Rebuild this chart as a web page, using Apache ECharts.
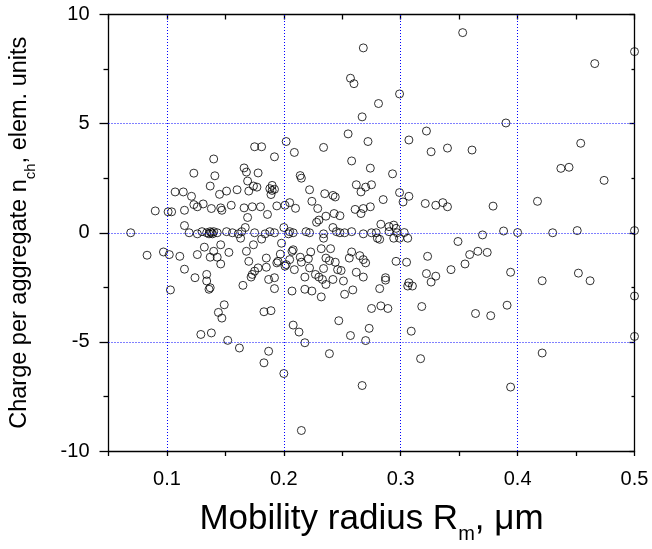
<!DOCTYPE html>
<html><head><meta charset="utf-8">
<script src="https://cdn.jsdelivr.net/npm/echarts@6/dist/echarts.min.js"></script>
<style>html,body{margin:0;padding:0;background:#fff}#c{width:652px;height:549px}</style>
</head><body><div id="c"></div>
<script>
// Mobility radius R_m (µm)
const radius = [
0.069,0.090,0.101,0.104,0.107,0.114,0.115,0.115,0.083,0.097,0.102,0.111,0.115,0.103,
0.175,0.181,0.202,0.209,0.140,0.192,0.123,0.141,0.166,0.168,0.178,0.214,0.215,0.137,0.169,0.174,0.177,0.170,0.190,0.190,0.188,0.192,0.189,0.121,0.145,0.151,0.160,0.123,0.131,0.126,0.138,0.146,0.147,0.155,0.166,0.173,0.180,0.169,0.186,0.194,0.201,0.205,0.210,0.167,0.200,0.205,
0.119,0.126,0.130,0.134,0.136,0.137,0.138,0.139,0.140,0.143,0.151,0.156,0.161,0.164,0.175,0.184,0.188,0.192,0.204,0.208,0.219,0.222,0.234,0.245,0.248,0.252,0.258,0.268,0.275,0.279,0.290,0.297,0.303,0.370,0.388,0.400,
0.163,0.181,0.234,0.280,0.282,0.294,0.299,0.306,0.349,
0.126,0.132,0.140,0.146,0.153,0.137,0.143,0.146,0.124,0.134,0.134,0.136,0.137,0.165,0.172,0.173,0.175,0.178,0.185,0.185,0.187,0.192,0.192,0.168,0.170,0.174,0.194,0.195,0.198,0.197,0.201,0.202,0.205,0.207,0.208,0.207,0.149,0.144,0.147,0.183,0.189,0.129,0.138,0.152,0.162,0.187,0.183,0.208,0.213,
0.281,0.267,0.255,0.272,0.307,0.234,0.258,0.274,0.293,0.222,0.235,0.242,0.244,0.262,0.266,0.270,0.275,0.285,0.299,0.307,0.302,0.224,0.229,0.236,0.243,0.248,0.261,0.266,0.268,0.274,0.230,0.228,0.242,0.283,0.290,0.294,0.296,
0.232,0.240,0.223,0.214,0.221,0.236,0.239,0.244,0.215,0.209,0.222,0.234,0.246,0.249,0.258,0.256,0.265,0.268,0.270,0.262,0.268,0.296,0.305,0.218,0.227,0.230,0.233,0.242,0.251,0.236,0.287,0.287,0.307,0.306,0.218,0.224,0.232,0.252,0.259,0.282,0.275,0.283,0.289,0.247,0.273,0.257,0.270,0.218,0.239,0.309,
0.353,0.390,0.322,0.326,0.340,0.361,0.299,0.321,0.330,0.336,0.340,0.379,0.417,
0.323,0.359,0.366,0.374,0.355,0.343,0.322,0.330,0.326,0.310,0.394,0.318,0.364,0.377,0.391,0.317,0.394,0.421,0.421,
0.268,0.257,0.260,0.200,0.267,0.215,
0.430,0.437,0.444,0.454,0.451,0.452,0.466,0.474,0.462,0.500,0.500,0.500,0.500
];
// Charge per aggregate n_ch (elementary units)
const charge = [
0.00,1.00,0.96,0.96,1.87,1.87,1.03,0.33,-1.03,-0.88,-1.00,-1.08,-1.67,-2.62,
3.94,3.94,4.18,3.68,3.38,3.48,2.73,2.61,2.97,2.78,2.74,2.62,2.50,2.14,2.37,2.14,2.09,1.91,2.17,1.94,2.02,1.99,1.75,1.67,1.76,1.91,1.97,1.29,1.32,1.19,1.11,1.14,1.03,1.26,1.14,1.19,1.19,0.70,0.84,1.23,1.26,1.38,1.12,0.24,0.24,0.05,
0.00,-0.05,0.05,0.00,-0.05,0.05,0.00,-0.05,0.05,0.00,0.05,0.00,-0.05,0.05,0.00,-0.05,0.05,0.00,-0.05,0.00,0.05,0.00,-0.05,0.05,0.00,0.00,0.05,-0.05,0.00,0.00,0.05,0.00,0.01,-0.10,0.08,0.01,
-0.25,-0.29,-0.25,-0.25,-0.30,-0.25,-0.25,-0.25,-0.40,
-1.00,-0.66,-0.85,-0.55,-0.90,-1.12,-1.12,-1.43,-2.06,-1.91,-2.21,-2.59,-2.52,-2.41,-2.03,-1.91,-1.76,-1.61,-1.16,-1.58,-2.14,-2.06,-2.56,-0.85,-1.31,-0.55,-1.38,-1.31,-0.48,-0.98,-1.53,-1.46,-1.23,-0.85,-0.78,-2.67,-3.30,-3.65,-3.91,-3.62,-3.57,-4.66,-4.59,-4.93,-5.28,-5.43,-5.96,-4.23,-4.55,
5.92,5.31,4.53,4.18,4.25,3.91,3.29,2.96,2.70,1.97,1.79,1.71,1.64,2.20,1.87,2.09,2.20,1.52,1.84,1.67,1.41,1.44,1.11,0.76,0.88,0.78,1.07,0.88,1.11,1.19,0.58,0.48,0.24,0.39,0.28,0.35,0.20,
-0.73,-0.73,-0.88,-1.12,-1.19,-1.16,-1.28,-1.35,-1.35,-1.69,-1.61,-1.64,-1.69,-1.73,-0.88,-1.16,-1.05,-1.23,-1.38,-1.81,-2.03,-1.31,-1.35,-2.03,-1.91,-2.03,-2.14,-2.14,-2.21,-2.37,-2.06,-2.17,-2.29,-2.44,-2.59,-2.67,-2.94,-2.82,-2.62,-2.56,-3.47,-3.35,-3.47,-4.03,-4.38,-4.71,-4.94,-5.04,-5.54,-4.51,
9.17,5.03,4.66,3.71,3.88,3.79,6.36,1.34,1.26,1.38,1.19,1.22,1.44,
-1.08,-1.00,-0.85,-0.90,-1.43,-1.69,-1.87,-1.99,-2.26,-2.44,-1.81,-3.38,-3.70,-3.80,-3.32,-5.77,-7.07,-2.20,-5.51,
8.47,7.08,6.83,-6.45,-7.00,-9.06,
0.00,2.95,3.00,4.10,0.10,-1.85,7.75,2.40,-2.20,8.30,-2.90,-4.75,0.10
];
const xGridValues = [0.1, 0.2, 0.3, 0.4];
const yGridValues = [5, 0, -5];

const points = radius.map((r, i) => [r, charge[i]]);
const FONT = 'Liberation Sans, Arial, sans-serif';
const gridColor = '#0000ff';

const chart = echarts.init(document.getElementById('c'), null, {renderer: 'canvas'});
const isMult = (v, s) => Math.abs(v / s - Math.round(v / s)) < 1e-6;

chart.setOption({
  animation: false,
  backgroundColor: '#fff',
  grid: {left: 103.5, right: 17.5, top: 14.5, bottom: 94.5, containLabel: false},
  xAxis: [{
    type: 'value', min: 0.05, max: 0.5, interval: 0.05, position: 'bottom',
    name: 'Mobility radius R{sub|m}, \u03bcm', nameLocation: 'middle', nameGap: 43,
    nameTextStyle: {fontFamily: FONT, fontSize: 35, color: '#000',
      rich: {sub: {fontFamily: FONT, fontSize: 20, color: '#000', padding: [30, 0, 0, 0]}}},
    axisLine: {onZero: false, lineStyle: {color: '#000', width: 1.3}},
    axisTick: {inside: false, length: 5, lineStyle: {color: '#000', width: 1.3}},
    axisLabel: {margin: 18, fontFamily: FONT, fontSize: 20, color: '#000',
      formatter: v => isMult(v, 0.1) ? (Math.round(v * 10) / 10).toString() : ''},
    splitLine: {show: false}
  }, {
    type: 'value', min: 0.05, max: 0.5, interval: 0.05, position: 'top',
    axisLine: {onZero: false, lineStyle: {color: '#000', width: 1.3}},
    axisTick: {inside: true, length: 5, lineStyle: {color: '#000', width: 1.3}},
    axisLabel: {show: false}, splitLine: {show: false}
  }],
  yAxis: [{
    type: 'value', min: -10, max: 10, interval: 5, position: 'left',
    name: 'Charge per aggregate n{sub|ch}, elem. units', nameLocation: 'middle', nameGap: 70, nameRotate: 90,
    nameTextStyle: {fontFamily: FONT, fontSize: 23.5, color: '#000',
      rich: {sub: {fontFamily: FONT, fontSize: 15, color: '#000', padding: [22, 0, 0, 0]}}},
    axisLine: {onZero: false, lineStyle: {color: '#000', width: 1.3}},
    axisTick: {inside: false, length: 9, lineStyle: {color: '#000', width: 1.3}},
    minorTick: {show: true, splitNumber: 2, length: 5, lineStyle: {color: '#000', width: 1.3}},
    axisLabel: {margin: 19, fontFamily: FONT, fontSize: 20, color: '#000'},
    splitLine: {show: false}
  }, {
    type: 'value', min: -10, max: 10, interval: 5, position: 'right',
    axisLine: {onZero: false, lineStyle: {color: '#000', width: 1.3}},
    axisTick: {inside: true, length: 5, lineStyle: {color: '#000', width: 1.3}},
    minorTick: {show: true, splitNumber: 2, length: 3, lineStyle: {color: '#000', width: 1.3}},
    axisLabel: {show: false}, splitLine: {show: false}
  }],
  series: [{
    type: 'scatter', xAxisIndex: 0, yAxisIndex: 0, data: points,
    symbol: 'circle', symbolSize: 8,
    itemStyle: {color: 'rgba(0,0,0,0)', borderColor: '#000', borderWidth: 1},
    silent: true, z: 3,
    markLine: {
      silent: true, symbol: 'none', animation: false,
      label: {show: false},
      lineStyle: {color: gridColor, type: [1, 2], width: 1, opacity: 1},
      data: xGridValues.map(v => ({xAxis: v})).concat(yGridValues.map(v => ({yAxis: v})))
    }
  }]
});
</script></body></html>
